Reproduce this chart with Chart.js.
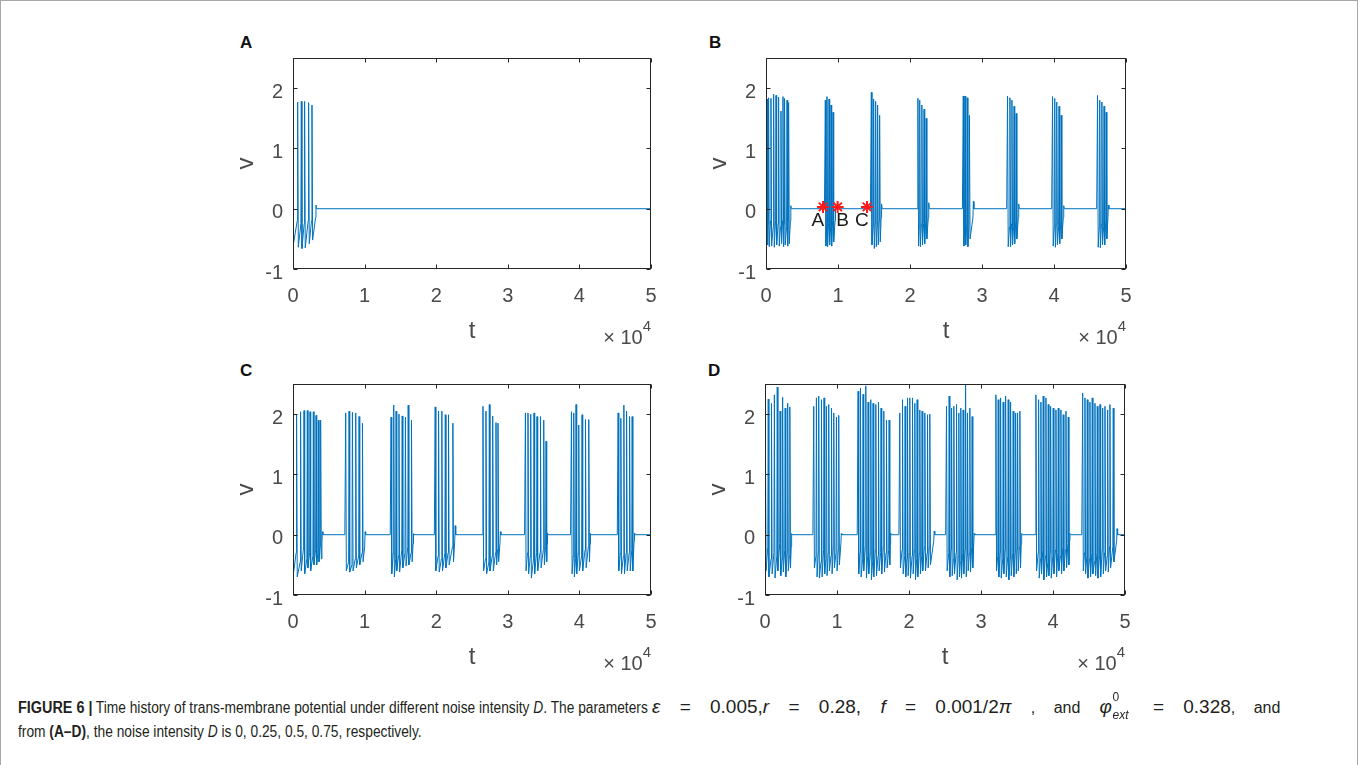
<!DOCTYPE html>
<html><head><meta charset="utf-8">
<script src="https://cdn.jsdelivr.net/npm/chart.js@4.4.0/dist/chart.umd.min.js"></script>
<style>
body{margin:0;width:1360px;height:765px;overflow:hidden;background:#fff;font-family:"Liberation Sans",Arial,sans-serif;position:relative}
.frame{position:absolute;left:0;top:0;width:1358px;height:800px;border:1px solid #a8a8a8;box-sizing:border-box}
canvas{position:absolute}
.lbl{position:absolute;font-weight:bold;font-size:17px;color:#111;line-height:17px}
.cap{position:absolute;left:18px;font-size:16px;line-height:20px;color:#231f20;white-space:nowrap}
.math{font-size:19px}
.math .t{font-size:16px}
.phi{display:inline-block;position:relative;width:34px}
.phi .s0{position:absolute;left:13px;top:-10px;font-size:12px;font-style:normal}
.phi .se{position:absolute;left:13px;top:8px;font-size:12px;font-style:italic}
</style></head>
<body>
<div class="frame"></div>
<div class="lbl" style="left:240px;top:34px">A</div>
<div class="lbl" style="left:709px;top:34px">B</div>
<div class="lbl" style="left:240px;top:362px">C</div>
<div class="lbl" style="left:708px;top:362px">D</div>
<canvas id="cA"></canvas><canvas id="cB"></canvas><canvas id="cC"></canvas><canvas id="cD"></canvas>
<div class="cap" id="line1" style="top:697px"><span class="cond" data-f="0.9"><b>FIGURE 6 |</b></span><span class="cond" data-f="0.86">&nbsp;Time history of trans-membrane potential under different noise intensity <i>D</i>. The parameters&nbsp;</span><span class="math" id="m1"><i>ε</i> = 0.005,<i>r</i> = 0.28, <i>f</i> = 0.001/2<i>π</i> <span class="t">, and</span> <span class="phi"><i>φ</i><span class="s0">0</span><span class="se">ext</span></span> = 0.328<span class="t">, and</span></span></div>
<div class="cap" style="top:722px"><span class="cond" data-f="0.86">from <b>(A–D)</b>, the noise intensity <i>D</i> is 0, 0.25, 0.5, 0.75, respectively.</span></div>
<script>
// ---- axis ticks ----
const xTicks = [0, 10000, 20000, 30000, 40000, 50000];
const xTickLabels = ['0', '1', '2', '3', '4', '5'];
const yTicks = [-1, 0, 1, 2];
const yTickLabels = ['-1', '0', '1', '2'];

// ---- panel A (D = 0) : spike times, peaks, troughs, recovery levels per burst ----
const aSpikeT = [[0, 650, 1160, 1620, 2180, 2650]];
const aPeak   = [[1.74, 1.77, 1.78, 1.78, 1.76, 1.72]];
const aTrough = [[-0.6, -0.64, -0.66, -0.65, -0.58, -0.52]];
const aRec    = [[-0.2, -0.25, -0.25, -0.2, -0.2, -0.15]];
const aEndT   = [3210];
const aEndV   = [0.06];

// ---- panel B (D = 0.25) ----
const bSpikeT = [
  [140, 360, 690, 1060, 1390, 1750, 2080, 2360, 2580, 2920, 3140],
  [8240, 8470, 8750, 9030, 9310],
  [14630, 14950, 15230, 15500, 15780],
  [21100, 21350, 21650, 21950, 22250],
  [27400, 27650, 27950, 28250],
  [33550, 33880, 34160, 34450, 34750],
  [39800, 40100, 40380, 40700, 41000],
  [46050, 46350, 46650, 46950, 47250]
];
const bPeak = [
  [1.82, 1.84, 1.83, 1.9, 1.88, 1.85, 1.62, 1.86, 1.83, 1.8, 1.76],
  [1.8, 1.86, 1.82, 1.72, 1.6],
  [1.93, 1.82, 1.78, 1.72, 1.55],
  [1.83, 1.8, 1.72, 1.65, 1.5],
  [1.87, 1.87, 1.84, 1.55],
  [1.87, 1.84, 1.8, 1.7, 1.58],
  [1.86, 1.83, 1.77, 1.7, 1.55],
  [1.88, 1.8, 1.77, 1.7, 1.6]
];
const bTrough = [
  [-0.6, -0.63, -0.62, -0.64, -0.6, -0.62, -0.58, -0.63, -0.6, -0.62, -0.58],
  [-0.62, -0.63, -0.6, -0.62, -0.55],
  [-0.6, -0.66, -0.63, -0.6, -0.55],
  [-0.62, -0.63, -0.6, -0.58, -0.5],
  [-0.62, -0.6, -0.63, -0.5],
  [-0.63, -0.63, -0.6, -0.58, -0.5],
  [-0.62, -0.64, -0.6, -0.58, -0.5],
  [-0.64, -0.65, -0.6, -0.6, -0.5]
];
const bRec = [
  [-0.25, -0.2, -0.3, -0.2, -0.25, -0.3, -0.2, -0.25, -0.3, -0.2, -0.2],
  [-0.3, -0.25, -0.3, -0.2, -0.2],
  [-0.3, -0.25, -0.3, -0.2, -0.15],
  [-0.3, -0.25, -0.25, -0.2, -0.15],
  [-0.3, -0.25, -0.3, -0.15],
  [-0.3, -0.25, -0.3, -0.2, -0.15],
  [-0.3, -0.25, -0.3, -0.2, -0.15],
  [-0.3, -0.25, -0.3, -0.2, -0.15]
];
const bEndT = [3450, 9650, 16050, 22600, 28800, 35100, 41350, 47550];
const bEndV = [0.05, 0.03, 0.08, 0.1, 0.12, 0.08, 0.05, 0.06];
// marked points A, B, C on panel B
const starT = [7920, 9950, 14030];
const starV = [0.03, 0.03, 0.03];
const starLabels = ['A', 'B', 'C'];
const starLabelT = [7200, 10650, 13330];
const starLabelV = [-0.2, -0.2, -0.2];

// ---- panel C (D = 0.5) ----
const cSpikeT = [
  [42, 500, 1060, 1540, 2000, 2380, 2840, 3220, 3540, 3860],
  [7360, 7830, 8300, 8760, 9230, 9700],
  [13700, 14070, 14400, 14800, 15250, 15700, 16090, 16550],
  [19860, 20330, 20790, 21270, 21720, 22330],
  [26530, 26950, 27420, 27890, 28350, 28630],
  [32460, 32820, 33200, 33660, 34080, 34560, 35020, 35340],
  [38890, 39210, 39530, 39910, 40370, 40850, 41310],
  [45410, 45790, 46210, 46590, 47010, 47370]
];
const cPeak = [
  [2.02, 2.0, 2.04, 2.06, 2.06, 2.04, 2.04, 1.98, 1.9, 1.9],
  [2.02, 2.05, 2.03, 2.02, 1.96, 1.85],
  [1.95, 2.15, 2.05, 2.0, 1.97, 1.95, 2.15, 1.9],
  [2.12, 2.05, 2.05, 1.99, 1.99, 1.85],
  [2.13, 2.05, 2.16, 1.97, 1.86, 1.85],
  [2.02, 2.02, 2.0, 2.02, 1.96, 1.96, 1.9, 1.55],
  [2.04, 2.02, 2.16, 1.82, 1.99, 1.91, 1.91],
  [2.02, 1.93, 2.15, 2.05, 1.96, 1.96]
];
const cTrough = [
  [-0.65, -0.7, -0.6, -0.65, -0.55, -0.6, -0.5, -0.5, -0.45, -0.4],
  [-0.6, -0.62, -0.6, -0.55, -0.5, -0.45],
  [-0.65, -0.7, -0.6, -0.62, -0.55, -0.52, -0.5, -0.45],
  [-0.6, -0.62, -0.6, -0.55, -0.5, -0.45],
  [-0.6, -0.65, -0.6, -0.6, -0.5, -0.45],
  [-0.6, -0.65, -0.72, -0.65, -0.6, -0.55, -0.5, -0.45],
  [-0.65, -0.7, -0.65, -0.6, -0.6, -0.55, -0.45],
  [-0.6, -0.65, -0.65, -0.6, -0.6, -0.6]
];
const cRec = [
  [-0.3, -0.45, -0.2, -0.4, -0.3, -0.35, -0.25, -0.3, -0.2, -0.15],
  [-0.45, -0.5, -0.4, -0.35, -0.3, -0.2],
  [-0.3, -0.4, -0.35, -0.25, -0.3, -0.2, -0.3, -0.15],
  [-0.35, -0.4, -0.3, -0.3, -0.2, -0.1],
  [-0.4, -0.45, -0.35, -0.3, -0.25, -0.15],
  [-0.3, -0.35, -0.4, -0.3, -0.3, -0.25, -0.2, -0.15],
  [-0.35, -0.4, -0.3, -0.35, -0.25, -0.2, -0.15],
  [-0.3, -0.35, -0.3, -0.3, -0.25, -0.1]
];
const cEndT = [4100, 10070, 16830, 22650, 28960, 35550, 41550, 47700];
const cEndV = [0.05, 0.05, 0.02, 0.15, 0.05, 0.03, 0.02, 0.03];

// ---- panel D (D = 0.75) ----
const dSpikeT = [
  [60, 450, 900, 1300, 1700, 2100, 2450, 2800, 3150, 3450],
  [6770, 7140, 7460, 7840, 8200, 8530, 8850, 9230, 9550, 9920, 10240],
  [12930, 13260, 13620, 14000, 14320, 14690, 15010, 15390, 15760, 16120, 16500, 16870, 17240],
  [18720, 19100, 19460, 19790, 20110, 20490, 20810, 21130, 21500, 21820, 22200, 22570, 22890],
  [25210, 25580, 25910, 26230, 26600, 26920, 27200, 27520, 27860, 28130, 28450, 28770],
  [32070, 32390, 32720, 33080, 33420, 33780, 34110, 34470, 34810, 35080, 35400],
  [37630, 38000, 38320, 38640, 39020, 39340, 39670, 40030, 40410, 40730, 41100, 41420, 41800, 42120],
  [44120, 44440, 44760, 45130, 45450, 45830, 46150, 46530, 46900, 47220, 47590, 47910, 48370]
];
const dPeak = [
  [2.2, 2.25, 2.18, 2.32, 2.45, 2.05, 2.28, 2.1, 2.18, 2.12],
  [2.13, 2.27, 2.3, 2.24, 2.27, 2.13, 2.16, 2.1, 2.02, 1.95, 1.98],
  [2.38, 2.43, 2.33, 2.47, 2.2, 2.24, 2.18, 2.16, 2.2, 2.1, 2.05, 1.9, 1.9],
  [2.02, 2.24, 2.13, 2.27, 2.27, 2.27, 2.18, 2.24, 2.07, 2.05, 2.02, 1.99, 2.0],
  [2.13, 2.3, 2.1, 2.13, 2.16, 2.02, 2.1, 2.07, 2.49, 2.02, 2.1, 1.96],
  [2.32, 2.24, 2.27, 2.2, 2.3, 2.24, 2.2, 2.05, 2.02, 2.02, 2.05],
  [2.32, 2.24, 2.2, 2.3, 2.27, 2.16, 2.13, 2.1, 2.07, 2.1, 2.07, 1.99, 2.05, 1.95],
  [2.35, 2.27, 2.24, 2.2, 2.27, 2.18, 2.13, 2.16, 2.1, 2.13, 2.07, 2.16, 2.1]
];
const dTrough = [
  [-0.6, -0.7, -0.65, -0.72, -0.6, -0.68, -0.62, -0.7, -0.6, -0.55],
  [-0.55, -0.7, -0.72, -0.7, -0.65, -0.68, -0.6, -0.65, -0.55, -0.6, -0.5],
  [-0.65, -0.7, -0.6, -0.72, -0.65, -0.75, -0.7, -0.68, -0.6, -0.65, -0.62, -0.55, -0.5],
  [-0.55, -0.65, -0.7, -0.68, -0.72, -0.65, -0.75, -0.7, -0.65, -0.6, -0.6, -0.55, -0.5],
  [-0.6, -0.7, -0.68, -0.65, -0.75, -0.7, -0.72, -0.65, -0.7, -0.6, -0.62, -0.55],
  [-0.6, -0.7, -0.72, -0.65, -0.7, -0.75, -0.68, -0.7, -0.65, -0.6, -0.55],
  [-0.6, -0.72, -0.65, -0.75, -0.7, -0.68, -0.72, -0.65, -0.7, -0.6, -0.65, -0.6, -0.55, -0.5],
  [-0.6, -0.65, -0.72, -0.7, -0.65, -0.68, -0.72, -0.7, -0.65, -0.6, -0.62, -0.55, -0.45]
];
const dRec = [
  [-0.2, -0.4, -0.3, -0.35, -0.15, -0.4, -0.25, -0.3, -0.35, -0.2],
  [-0.35, -0.3, -0.45, -0.25, -0.4, -0.3, -0.35, -0.2, -0.3, -0.25, -0.15],
  [-0.3, -0.4, -0.2, -0.35, -0.3, -0.45, -0.25, -0.35, -0.3, -0.2, -0.3, -0.25, -0.15],
  [-0.25, -0.35, -0.4, -0.3, -0.35, -0.25, -0.4, -0.3, -0.35, -0.2, -0.3, -0.2, -0.1],
  [-0.3, -0.25, -0.4, -0.3, -0.35, -0.45, -0.3, -0.25, -0.35, -0.3, -0.2, -0.15],
  [-0.35, -0.3, -0.4, -0.25, -0.35, -0.4, -0.3, -0.3, -0.25, -0.2, -0.15],
  [-0.3, -0.4, -0.25, -0.35, -0.45, -0.3, -0.35, -0.25, -0.3, -0.35, -0.2, -0.25, -0.15, -0.1],
  [-0.3, -0.35, -0.4, -0.3, -0.45, -0.3, -0.35, -0.25, -0.3, -0.35, -0.2, -0.2, -0.1]
];
const dEndT = [3700, 10600, 17450, 23500, 29050, 35650, 42350, 48900];
const dEndV = [0.02, 0.02, 0.03, 0.06, 0.02, 0.02, 0.02, 0.1];

// ---- build the polyline vertices from the read values ----
function buildTrace(spT, pk, tr, rc, endT, endV) {
  const pts = [{x: 0, y: 0}];
  for (let b = 0; b < spT.length; b++) {
    const T = spT[b];
    if (T[0] > 0) pts.push({x: Math.max(0, T[0] - 120), y: 0});
    for (let j = 0; j < T.length; j++) {
      pts.push({x: T[j], y: pk[b][j]});
      pts.push({x: T[j] + 90, y: tr[b][j]});
      const nextT = (j < T.length - 1) ? T[j + 1] : endT[b];
      pts.push({x: nextT - 60, y: rc[b][j]});
    }
    pts.push({x: endT[b], y: endV[b]});
    pts.push({x: endT[b] + 80, y: 0});
  }
  pts.push({x: 50000, y: 0});
  return pts;
}

const FONT = '"Liberation Sans", Arial, Helvetica, sans-serif';
const TXT = '#4a4a4a';

const decor = {
  id: 'decor',
  afterDraw(chart) {
    const {ctx, chartArea: a, scales: {x, y}} = chart;
    const L = Math.round(a.left) + 0.5, R = Math.round(a.right) - 0.5;
    const T = Math.round(a.top) + 0.5, B = Math.round(a.bottom) - 0.5;
    ctx.save();
    ctx.strokeStyle = '#262626';
    ctx.lineWidth = 1;
    ctx.strokeRect(L, T, R - L, B - T);
    ctx.beginPath();
    xTicks.forEach(v => {
      const px = Math.round(x.getPixelForValue(v)) + 0.5;
      ctx.moveTo(px, B); ctx.lineTo(px, B - 4);
      ctx.moveTo(px, T); ctx.lineTo(px, T + 4);
    });
    yTicks.forEach(v => {
      const py = Math.round(y.getPixelForValue(v)) + 0.5;
      ctx.moveTo(L, py); ctx.lineTo(L + 4, py);
      ctx.moveTo(R, py); ctx.lineTo(R - 4, py);
    });
    ctx.stroke();
    // axis titles
    ctx.fillStyle = TXT;
    ctx.font = '24px ' + FONT;
    ctx.textAlign = 'center';
    ctx.textBaseline = 'middle';
    ctx.fillText('t', (a.left + a.right) / 2, a.bottom + 62);
    ctx.save();
    ctx.translate(a.left - 47, (a.top + a.bottom) / 2);
    ctx.rotate(-Math.PI / 2);
    ctx.fillText('v', 0, 0);
    ctx.restore();
    // exponent label
    ctx.textBaseline = 'alphabetic';
    ctx.textAlign = 'right';
    ctx.font = '15px ' + FONT;
    const supW = ctx.measureText('4').width;
    ctx.fillText('4', a.right, a.bottom + 62);
    ctx.font = '20px ' + FONT;
    ctx.fillText('\u00d7 10', a.right - supW, a.bottom + 75);
    // point labels (panel B)
    const lab = chart.options.plugins.decor && chart.options.plugins.decor.labels;
    if (lab) {
      ctx.fillStyle = '#1a1a1a';
      ctx.font = '19px ' + FONT;
      ctx.textAlign = 'center';
      ctx.textBaseline = 'middle';
      lab.text.forEach((s, i) => ctx.fillText(s, x.getPixelForValue(lab.t[i]), y.getPixelForValue(lab.v[i])));
    }
    ctx.restore();
  }
};

function makePanel(id, rect, trace, extra, labels) {
  const cv = document.getElementById(id);
  const padL = 70, padT = 10, padR = 20, padB = 95;
  cv.style.left = (rect.l - padL) + 'px';
  cv.style.top = (rect.t - padT) + 'px';
  cv.width = rect.w + padL + padR;
  cv.height = rect.h + padT + padB;
  const datasets = [{
    data: trace, borderColor: '#0072BD', borderWidth: 1, pointRadius: 0,
    tension: 0, fill: false, order: 1
  }];
  if (extra) datasets.push(extra);
  new Chart(cv, {
    type: 'line',
    data: {datasets},
    options: {
      responsive: false, animation: false, events: [],
      layout: {padding: {left: 0, top: padT, right: padR, bottom: 0}},
      plugins: {legend: {display: false}, tooltip: {enabled: false}, decor: labels ? {labels} : {}},
      scales: {
        x: {
          type: 'linear', min: 0, max: 50000,
          afterBuildTicks: s => { s.ticks = xTicks.map(v => ({value: v})); },
          afterFit: s => { s.height = padB; s.paddingLeft = 0; s.paddingRight = 0; },
          grid: {display: false, drawTicks: false}, border: {display: false},
          ticks: {
            callback: v => { const i = xTicks.indexOf(v); return i >= 0 ? xTickLabels[i] : ''; },
            font: {size: 20, family: FONT}, color: TXT, padding: 15, maxRotation: 0, autoSkip: false
          }
        },
        y: {
          type: 'linear', min: -1, max: 2.5,
          afterBuildTicks: s => { s.ticks = yTicks.map(v => ({value: v})); },
          afterFit: s => { s.width = padL; s.paddingTop = 0; s.paddingBottom = 0; },
          grid: {display: false, drawTicks: false}, border: {display: false},
          ticks: {
            callback: v => { const i = yTicks.indexOf(v); return i >= 0 ? yTickLabels[i] : ''; },
            font: {size: 20, family: FONT}, color: TXT, padding: 10, labelOffset: 4, autoSkip: false
          }
        }
      }
    },
    plugins: [decor]
  });
}

makePanel('cA', {l: 293, t: 58, w: 358, h: 211}, buildTrace(aSpikeT, aPeak, aTrough, aRec, aEndT, aEndV));
makePanel('cB', {l: 766, t: 58, w: 360, h: 211}, buildTrace(bSpikeT, bPeak, bTrough, bRec, bEndT, bEndV),
  {data: starT.map((t, i) => ({x: t, y: starV[i]})), showLine: false, pointStyle: 'star',
   pointRadius: 6, pointBorderWidth: 2, borderColor: '#ff1a1a', backgroundColor: '#ff1a1a', order: 0},
  {text: starLabels, t: starLabelT, v: starLabelV});
makePanel('cC', {l: 293, t: 384, w: 358, h: 211}, buildTrace(cSpikeT, cPeak, cTrough, cRec, cEndT, cEndV));
makePanel('cD', {l: 765, t: 384, w: 360, h: 211}, buildTrace(dSpikeT, dPeak, dTrough, dRec, dEndT, dEndV));

// ---- caption: condensed body text, math spaced to fill the first line ----
document.querySelectorAll('.cond').forEach(s => {
  const f = +s.dataset.f;
  const w = s.getBoundingClientRect().width;
  s.style.display = 'inline-block';
  s.style.width = (w * f) + 'px';
  s.style.transform = 'scaleX(' + f + ')';
  s.style.transformOrigin = '0 0';
});
(function () {
  const line = document.getElementById('line1');
  const m = document.getElementById('m1');
  const spaces = (m.textContent.match(/ /g) || []).length;
  const extra = 1345 - line.getBoundingClientRect().right;
  if (extra > 0 && spaces) m.style.wordSpacing = Math.min(extra / spaces, 14) + 'px';
})();
</script>
</body></html>
